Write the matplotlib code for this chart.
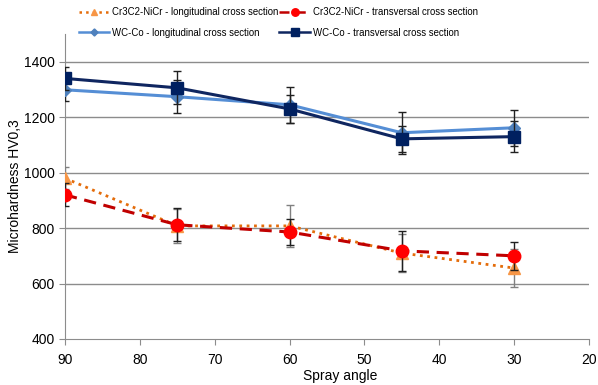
import matplotlib
matplotlib.use("Agg")
import matplotlib.pyplot as plt
from matplotlib.lines import Line2D

# spray angle (deg)
angles = [90, 75, 60, 45, 30]

cr_long = [980, 808, 808, 710, 656]
cr_long_err = [40, 62, 75, 70, 68]
cr_trans = [920, 812, 786, 718, 700]
cr_trans_err = [42, 60, 48, 72, 50]
wc_long = [1299, 1274, 1245, 1144, 1162]
wc_long_err = [40, 60, 65, 75, 65]
wc_trans = [1340, 1306, 1230, 1122, 1130]
wc_trans_err = [40, 60, 50, 48, 55]

labels = [
    "Cr3C2-NiCr - longitudinal cross section",
    "Cr3C2-NiCr - transversal cross section",
    "WC-Co - longitudinal cross section",
    "WC-Co - transversal cross section",
]

plt.rcParams['font.family'] = ['Liberation Sans', 'DejaVu Sans']

fig = plt.figure(figsize=(5.98, 3.85), dpi=100)
ax = fig.add_axes([0.1087, 0.1195, 0.876, 0.792])

# gridlines
for yv in [600, 800, 1000, 1200, 1400]:
    ax.axhline(yv, color="#8c8c8c", lw=1.0, zorder=0)

styles = [
    dict(color="#E46C0A", ls=":", lw=2, marker="^", ms=8, mfc="#F79646", mec="#F79646"),
    dict(color="#C00000", ls=(0, (4, 2.5)), lw=2.2, marker="o", ms=9, mfc="#FF0000", mec="#FF0000"),
    dict(color="#558ED5", ls="-", lw=2.2, marker="D", ms=6, mfc="#4F81BD", mec="#4F81BD"),
    dict(color="#0F2660", ls="-", lw=2.2, marker="s", ms=9, mfc="#002060", mec="#002060"),
]
series = [(cr_long, cr_long_err, "#808080", 3), (cr_trans, cr_trans_err, "#202020", 4),
          (wc_long, wc_long_err, "#202020", 3), (wc_trans, wc_trans_err, "#202020", 4)]

for (vals, err, ec, z), st in zip(series, styles):
    ax.errorbar(angles, vals, yerr=err, ecolor=ec, elinewidth=1, capsize=3, zorder=z, **st)

ax.set_xlim(90, 20)
ax.set_ylim(400, 1500)
ax.set_xticks([90, 80, 70, 60, 50, 40, 30, 20])
ax.set_yticks([400, 600, 800, 1000, 1200, 1400])
ax.tick_params(labelsize=10, direction="out", length=4, color="#8c8c8c")
ax.tick_params(axis="x", pad=6)

for s in ["top", "right"]:
    ax.spines[s].set_visible(False)
for s in ["left", "bottom"]:
    ax.spines[s].set_color("#8c8c8c")

ax.set_ylabel("Microhardness HV0,3", fontsize=10)
ax.yaxis.set_label_coords(-0.083, 0.5)
ax.set_xlabel("Spray angle", fontsize=10)
ax.xaxis.set_label_coords(0.525, -0.098)

# legend proxies with smaller markers
proxies = []
for st in styles:
    d = dict(st)
    d["ms"] = d["ms"] * 0.6
    d["lw"] = 1.8
    proxies.append(Line2D([], [], **d))

handles = [proxies[0], proxies[2], proxies[1], proxies[3]]
order_labels = [labels[0], labels[2], labels[1], labels[3]]
fig.legend(handles, order_labels, ncol=2, loc="upper left", bbox_to_anchor=(0.117, 1.004),
           frameon=False, fontsize=6.9, handlelength=3.2, columnspacing=0.1,
           handletextpad=0.3, labelspacing=1.1)

fig.savefig("out.png", dpi=100)
